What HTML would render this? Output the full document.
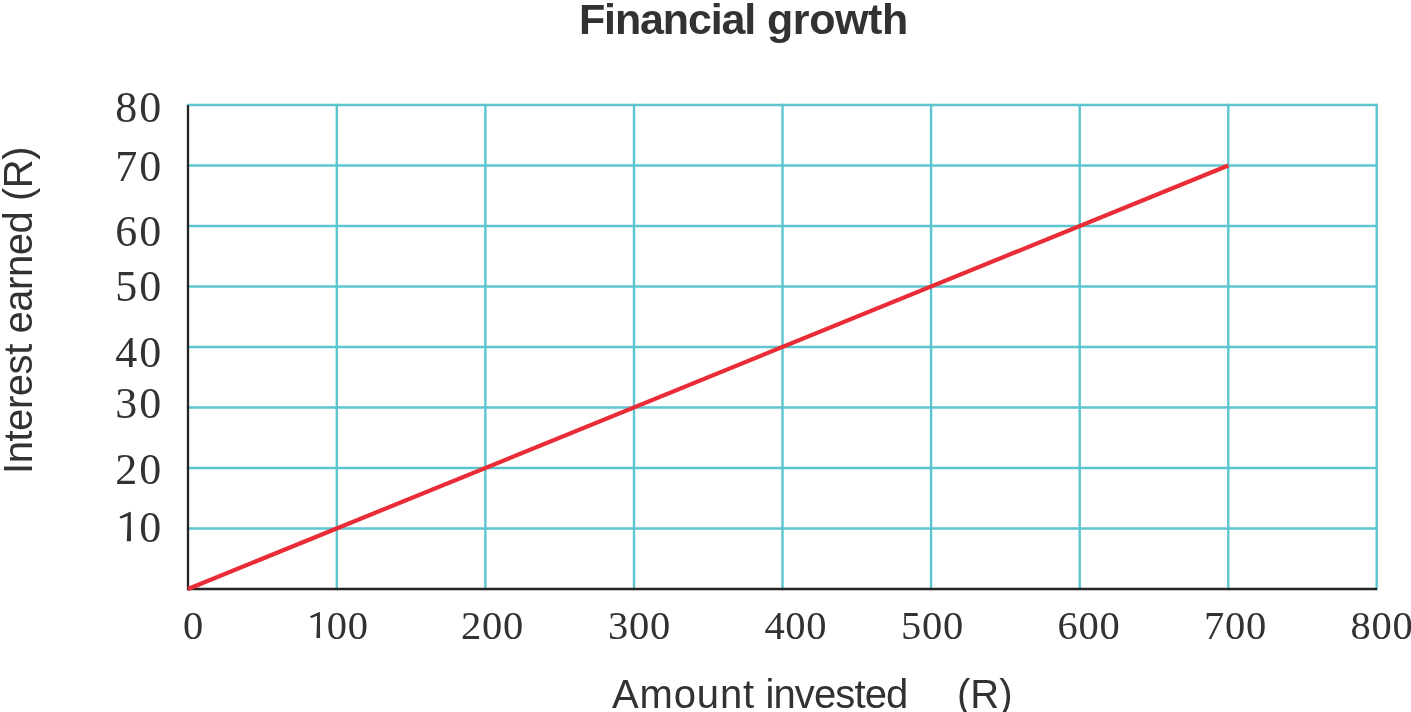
<!DOCTYPE html>
<html><head><meta charset="utf-8">
<style>
html,body{margin:0;padding:0;background:#fff;width:1411px;height:712px;overflow:hidden}
svg{display:block;will-change:transform}
text{font-family:"Liberation Sans",sans-serif;fill:#333132}
.sf text{font-family:"Liberation Serif",serif}
</style></head><body>
<svg width="1411" height="712" viewBox="0 0 1411 712">
<rect width="1411" height="712" fill="#fff"/>
<g stroke="#5cc5d0" stroke-width="2.4" fill="none" stroke-linecap="square">
<line x1="336.8" y1="105" x2="336.8" y2="589"/>
<line x1="485.4" y1="105" x2="485.4" y2="589"/>
<line x1="634.0" y1="105" x2="634.0" y2="589"/>
<line x1="782.5" y1="105" x2="782.5" y2="589"/>
<line x1="931.1" y1="105" x2="931.1" y2="589"/>
<line x1="1079.7" y1="105" x2="1079.7" y2="589"/>
<line x1="1228.3" y1="105" x2="1228.3" y2="589"/>
<line x1="1376.7" y1="105" x2="1376.7" y2="589"/>
<line x1="188" y1="105" x2="1376.7" y2="105"/>
<line x1="188" y1="165.5" x2="1376.7" y2="165.5"/>
<line x1="188" y1="226" x2="1376.7" y2="226"/>
<line x1="188" y1="286.5" x2="1376.7" y2="286.5"/>
<line x1="188" y1="347" x2="1376.7" y2="347"/>
<line x1="188" y1="407.5" x2="1376.7" y2="407.5"/>
<line x1="188" y1="468" x2="1376.7" y2="468"/>
<line x1="188" y1="528.5" x2="1376.7" y2="528.5"/>
</g>
<g stroke="#262324" stroke-width="2.3" fill="none">
<line x1="188" y1="105.2" x2="188" y2="590.15"/>
<line x1="187" y1="589" x2="1377" y2="589"/>
</g>
<line x1="188" y1="589" x2="1228.3" y2="165.5" stroke="#e92c35" stroke-width="4.2"/>
<text x="579" y="33.7" font-size="43" font-weight="bold" letter-spacing="-1.15">Financial</text>
<text x="767" y="33.7" font-size="43" font-weight="bold" letter-spacing="-0.4">growth</text>
<g font-size="44" text-anchor="end" class="sf" letter-spacing="2">
<text x="163.3" y="122.3">80</text>
<text x="163.3" y="181.4">70</text>
<text x="163.3" y="245.5">60</text>
<text x="163.3" y="301">50</text>
<text x="163.3" y="366.7">40</text>
<text x="163.3" y="417.9">30</text>
<text x="163.3" y="483.5">20</text>
<text x="163.3" y="541.6">0</text>
</g>
<g font-size="40.5" class="sf" letter-spacing="0.7">
<text x="183" y="638.7">0</text>
<text x="326.8" y="638.7">00</text>
<text x="461" y="638.7">200</text>
<text x="608" y="638.7">300</text>
<text x="764.4" y="638.7">400</text>
<text x="901" y="638.7">500</text>
<text x="1057.6" y="638.7">600</text>
<text x="1204" y="638.7">700</text>
<text x="1350.6" y="638.7">800</text>
</g>
<g fill="#333132">
<path transform="translate(320.1,637.9)" d="M-0.2 -25.9 L0 0 L-3.7 0 C-3.3 -7.9 -3.1 -14.9 -3.0 -22.2 L-8.4 -20.0 Q-10.1 -20.3 -10.0 -21.6 L-1.3 -25.6 Z"/>
<path transform="translate(131.0,541.3) scale(1.14)" d="M-0.2 -25.9 L0 0 L-3.7 0 C-3.3 -7.9 -3.1 -14.9 -3.0 -22.2 L-8.4 -20.0 Q-10.1 -20.3 -10.0 -21.6 L-1.3 -25.6 Z"/>
</g>
<text x="612" y="707.8" font-size="40" letter-spacing="0.86">Amount</text>
<text x="765.4" y="707.8" font-size="40" letter-spacing="-0.87">invested</text>
<text x="957" y="708" font-size="40">(R)</text>
<text transform="translate(32,474) rotate(-90)" font-size="40" letter-spacing="-0.45">Interest earned (R)</text>
</svg>
</body></html>
